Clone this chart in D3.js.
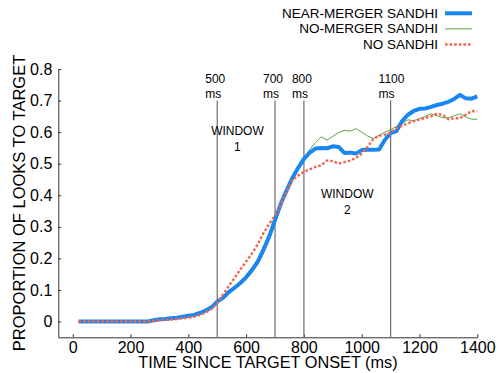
<!DOCTYPE html>
<html>
<head>
<meta charset="utf-8">
<script src="https://cdn.jsdelivr.net/npm/d3@7"></script>
<style>
  html, body { margin: 0; padding: 0; background: #fff; }
  svg { display: block; font-family: "Liberation Sans", Arial, Helvetica, sans-serif; }
</style>
</head>
<body>
<svg id="chart" width="499" height="373"></svg>
<script>
// Time bins (ms since target onset), 20 ms steps
const times = d3.range(20, 1401, 20);

// Proportion of looks to target, one value per bin
const nearMerger = [
  0, 0, 0, 0, 0, 0, 0, 0, 0, 0, 0, 0, 0,
  0.004, 0.007, 0.008, 0.010, 0.012, 0.015, 0.018, 0.021, 0.027, 0.035, 0.045,
  0.063, 0.075, 0.093, 0.107, 0.122, 0.140, 0.163, 0.190, 0.228, 0.270,
  0.322, 0.373, 0.415, 0.455, 0.487, 0.515, 0.535, 0.548, 0.550, 0.549,
  0.555, 0.553, 0.534, 0.535, 0.532, 0.543, 0.544, 0.544, 0.545, 0.575,
  0.597, 0.603, 0.635, 0.655, 0.667, 0.674, 0.675, 0.680, 0.686, 0.690,
  0.696, 0.705, 0.718, 0.707, 0.706, 0.713
];
const noMerger = [
  0, 0, 0, 0, 0, 0, 0, 0, 0, 0, 0, 0, 0,
  0.003, 0.006, 0.008, 0.009, 0.011, 0.014, 0.017, 0.020, 0.025, 0.032, 0.043,
  0.060, 0.072, 0.088, 0.102, 0.118, 0.135, 0.155, 0.180, 0.215, 0.258,
  0.310, 0.365, 0.410, 0.450, 0.485, 0.515, 0.545, 0.567, 0.585, 0.575,
  0.587, 0.598, 0.606, 0.603, 0.611, 0.600, 0.588, 0.580, 0.590, 0.600,
  0.608, 0.618, 0.628, 0.639, 0.636, 0.643, 0.650, 0.658, 0.652, 0.646,
  0.645, 0.652, 0.658, 0.648, 0.641, 0.641
];
const noSandhi = [
  0, 0, 0, 0, 0, 0, 0, 0, 0, 0, 0, 0, 0,
  0.002, 0.004, 0.005, 0.006, 0.008, 0.010, 0.012, 0.015, 0.020, 0.028, 0.040,
  0.058, 0.085, 0.112, 0.138, 0.165, 0.190, 0.215, 0.245, 0.280, 0.310,
  0.335, 0.370, 0.410, 0.448, 0.462, 0.474, 0.482, 0.490, 0.495, 0.510,
  0.508, 0.500, 0.505, 0.510, 0.518, 0.532, 0.553, 0.578, 0.588, 0.592,
  0.598, 0.613, 0.620, 0.628, 0.635, 0.640, 0.645, 0.650, 0.658, 0.655,
  0.641, 0.644, 0.644, 0.655, 0.667, 0.665
];

const seriesNames = ["NEAR-MERGER SANDHI", "NO-MERGER SANDHI", "NO SANDHI"];
const seriesValues = [nearMerger, noMerger, noSandhi];

// Analysis window boundaries (ms)
const markers = [500, 700, 800, 1100];
const windowLabels = [
  { name: "WINDOW", num: "1", t: 570, v: 0.590 },
  { name: "WINDOW", num: "2", t: 950, v: 0.390 }
];

const xTicks = [0, 200, 400, 600, 800, 1000, 1200, 1400];
const yTicks = [0, 0.1, 0.2, 0.3, 0.4, 0.5, 0.6, 0.7, 0.8];

const styles = [
  { color: "#1a86f2", width: 4, dash: null },
  { color: "#5ea24a", width: 1, dash: null },
  { color: "#f2654c", width: 2.4, dash: "2.6,2" }
];

const svg = d3.select("#chart");
const x = d3.scaleLinear().domain([-50, 1400]).range([58.3, 477.3]);
const y = d3.scaleLinear().domain([-0.05, 0.8]).range([337.3, 69]);

// Axes with inward ticks
const xAxis = d3.axisBottom(x).tickValues(xTicks).tickSizeInner(-3).tickSizeOuter(0).tickPadding(4)
  .tickFormat(d3.format("d"));
const yAxis = d3.axisLeft(y).tickValues(yTicks).tickSizeInner(-3).tickSizeOuter(0).tickPadding(6)
  .tickFormat(d => d === 0 ? "0" : d3.format(".1f")(d));

const gx = svg.append("g").attr("transform", `translate(0,${y(-0.05)})`).call(xAxis);
const gy = svg.append("g").attr("transform", `translate(${x(-50)},0)`).call(yAxis);
[gx, gy].forEach(g => {
  g.selectAll("text").attr("font-size", 16).attr("fill", "#000")
    .attr("font-family", "'Liberation Sans', Arial, sans-serif");
  g.selectAll("line").attr("stroke", "#333");
  g.select(".domain").attr("stroke", "#333");
});

// Window boundary lines with labels
const mk = svg.append("g");
markers.forEach(m => {
  mk.append("line")
    .attr("x1", x(m)).attr("x2", x(m))
    .attr("y1", y(0.70)).attr("y2", y(-0.05))
    .attr("stroke", "#6e6e6e").attr("stroke-width", 1.2);
  mk.append("text").attr("x", x(m) - 12).attr("y", 82.5)
    .attr("font-size", 12).text(String(m));
  mk.append("text").attr("x", x(m) - 12).attr("y", 97.5)
    .attr("font-size", 12).text("ms");
});
windowLabels.forEach(w => {
  mk.append("text").attr("x", x(w.t)).attr("y", y(w.v))
    .attr("text-anchor", "middle").attr("font-size", 12).text(w.name);
  mk.append("text").attr("x", x(w.t)).attr("y", y(w.v) + 16)
    .attr("text-anchor", "middle").attr("font-size", 12).text(w.num);
});

// Series curves: thin green underneath, dotted red on top
const line = d3.line().x((d, i) => x(times[i])).y(d => y(d));
const order = [1, 0, 2];
order.forEach(k => {
  svg.append("path")
    .datum(seriesValues[k])
    .attr("d", line)
    .attr("fill", "none")
    .attr("stroke", styles[k].color)
    .attr("stroke-width", styles[k].width)
    .attr("stroke-linejoin", "round")
    .attr("stroke-dasharray", styles[k].dash);
});

// Legend
const lg = svg.append("g");
seriesNames.forEach((name, i) => {
  const yy = 13.3 + i * 15.6;
  lg.append("text").attr("x", 438).attr("y", yy + 4.5)
    .attr("text-anchor", "end").attr("font-size", 13.5).text(name);
  lg.append("line").attr("x1", 445).attr("x2", 472).attr("y1", yy).attr("y2", yy)
    .attr("stroke", styles[i].color).attr("stroke-width", styles[i].width)
    .attr("stroke-dasharray", styles[i].dash);
});

// Axis titles
svg.append("text").attr("x", 268).attr("y", 368).attr("text-anchor", "middle")
  .attr("font-size", 16.3).text("TIME SINCE TARGET ONSET (ms)");
svg.append("text").attr("transform", `translate(25,203) rotate(-90)`)
  .attr("text-anchor", "middle").attr("font-size", 16.5).text("PROPORTION OF LOOKS TO TARGET");
</script>
</body>
</html>
